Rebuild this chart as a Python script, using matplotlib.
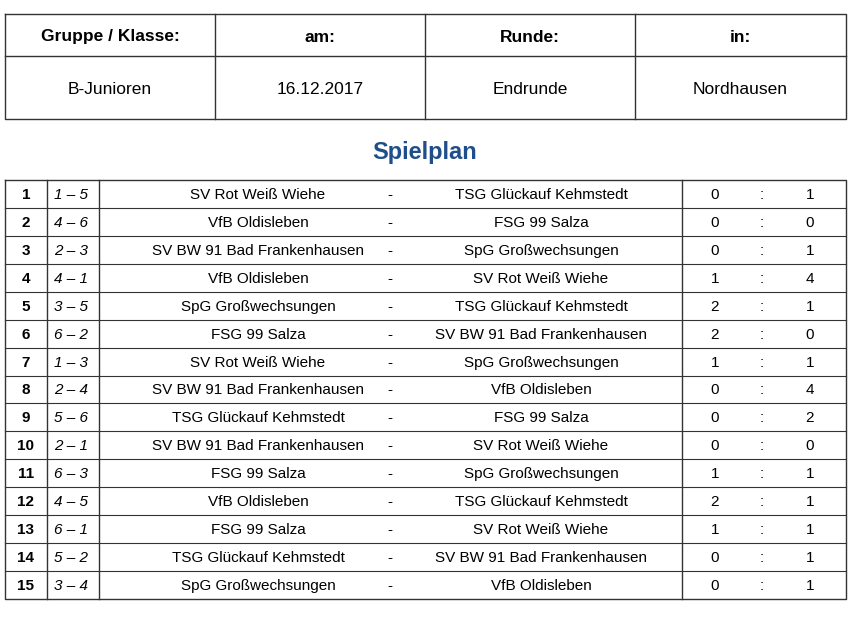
import matplotlib.pyplot as plt

plt.rcParams['font.family'] = ['Liberation Sans', 'DejaVu Sans']

header_labels = ["Gruppe / Klasse:", "am:", "Runde:", "in:"]
header_values = ["B-Junioren", "16.12.2017", "Endrunde", "Nordhausen"]

pairings = ["1 – 5", "4 – 6", "2 – 3", "4 – 1", "3 – 5", "6 – 2", "1 – 3", "2 – 4",
            "5 – 6", "2 – 1", "6 – 3", "4 – 5", "6 – 1", "5 – 2", "3 – 4"]
home = ["SV Rot Weiß Wiehe", "VfB Oldisleben", "SV BW 91 Bad Frankenhausen", "VfB Oldisleben",
        "SpG Großwechsungen", "FSG 99 Salza", "SV Rot Weiß Wiehe", "SV BW 91 Bad Frankenhausen",
        "TSG Glückauf Kehmstedt", "SV BW 91 Bad Frankenhausen", "FSG 99 Salza", "VfB Oldisleben",
        "FSG 99 Salza", "TSG Glückauf Kehmstedt", "SpG Großwechsungen"]
away = ["TSG Glückauf Kehmstedt", "FSG 99 Salza", "SpG Großwechsungen", "SV Rot Weiß Wiehe",
        "TSG Glückauf Kehmstedt", "SV BW 91 Bad Frankenhausen", "SpG Großwechsungen", "VfB Oldisleben",
        "FSG 99 Salza", "SV Rot Weiß Wiehe", "SpG Großwechsungen", "TSG Glückauf Kehmstedt",
        "SV Rot Weiß Wiehe", "SV BW 91 Bad Frankenhausen", "VfB Oldisleben"]
goals_home = [0, 0, 0, 1, 2, 2, 1, 0, 0, 0, 1, 2, 1, 0, 0]
goals_away = [1, 0, 1, 4, 1, 0, 1, 4, 2, 0, 1, 1, 1, 1, 1]

fig = plt.figure(figsize=(8.56, 6.2), dpi=100)
ax = fig.add_axes([0, 0, 1, 1])
ax.set_xlim(0, 856)
ax.set_ylim(620, 0)
ax.axis("off")

lc = "#333333"
lw = 1.0

# header box
hx = [5, 215, 425, 635, 846]
ax.plot([5, 846, 846, 5, 5], [14, 14, 119, 119, 14], color=lc, lw=lw)
ax.plot([5, 846], [56, 56], color=lc, lw=lw)
for x in hx[1:-1]:
    ax.plot([x, x], [14, 119], color=lc, lw=lw)
for i in range(4):
    cx = (hx[i] + hx[i + 1]) / 2
    ax.text(cx, 37, header_labels[i], ha="center", va="center", fontsize=12.5, fontweight="bold")
    ax.text(cx, 89, header_values[i], ha="center", va="center", fontsize=12.5)

ax.text(425, 152, "Spielplan", ha="center", va="center", fontsize=17,
        fontweight="bold", color="#1f4f8a")

# match table
top, bottom = 180, 599
n = len(home)
rh = (bottom - top) / n
ax.plot([5, 846, 846, 5, 5], [top, top, bottom, bottom, top], color=lc, lw=lw)
for x in [47, 99, 682]:
    ax.plot([x, x], [top, bottom], color=lc, lw=lw)
for i in range(n):
    y0 = top + i * rh
    if i > 0:
        ax.plot([5, 846], [y0, y0], color=lc, lw=0.8)
    cy = y0 + rh / 2 + 1
    ax.text(26, cy, str(i + 1), ha="center", va="center", fontsize=11, fontweight="bold")
    ax.text(54, cy, pairings[i], ha="left", va="center", fontsize=11, style="italic")
    ax.text(258, cy, home[i], ha="center", va="center", fontsize=11)
    ax.text(390, cy, "-", ha="center", va="center", fontsize=11)
    ax.text(541, cy, away[i], ha="center", va="center", fontsize=11)
    ax.text(715, cy, str(goals_home[i]), ha="center", va="center", fontsize=11)
    ax.text(762, cy, ":", ha="center", va="center", fontsize=11)
    ax.text(810, cy, str(goals_away[i]), ha="center", va="center", fontsize=11)

fig.savefig("out.png", dpi=100)
